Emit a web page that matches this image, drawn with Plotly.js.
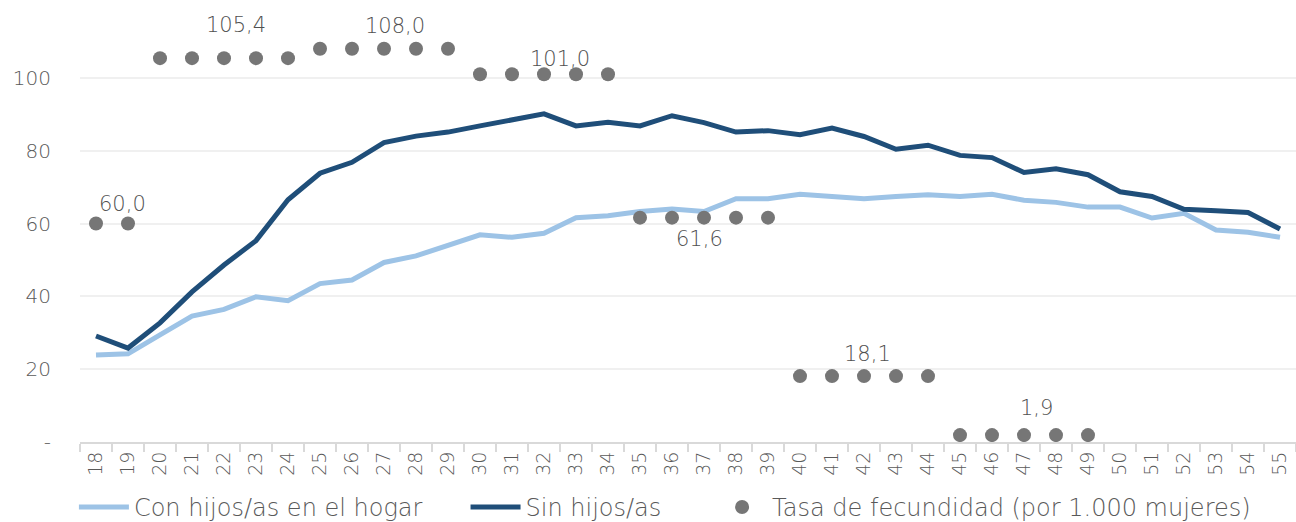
<!DOCTYPE html>
<html>
<head>
<meta charset="utf-8">
<script src="https://cdn.plot.ly/plotly-3.0.1.min.js"></script>
<style>
  html, body { margin: 0; padding: 0; background: #fff; }
  #chart { width: 1296px; height: 522px; }
</style>
</head>
<body>
<div id="chart"></div>
<script>
// Ages (x categories)
const ages = ['18','19','20','21','22','23','24','25','26','27','28','29','30','31','32','33','34','35','36',
              '37','38','39','40','41','42','43','44','45','46','47','48','49','50','51','52','53','54','55'];

// Con hijos/as en el hogar
const con_hijos = [23.9, 24.2, 29.4, 34.6, 36.4, 39.9, 38.8, 43.5, 44.5, 49.3, 51.1, 53.9, 56.9, 56.2, 57.3, 61.6, 62.1, 63.3, 64.0,
                   63.3, 66.8, 66.8, 68.0, 67.4, 66.8, 67.4, 67.9, 67.4, 68.0, 66.4, 65.8, 64.5, 64.5, 61.5, 62.8, 58.2, 57.6, 56.2];

// Sin hijos/as
const sin_hijos = [29.1, 25.8, 32.7, 41.2, 48.6, 55.3, 66.5, 73.8, 76.8, 82.2, 84.0, 85.1, 86.8, 88.6, 90.1, 86.8, 87.8, 86.8, 89.6,
                   87.7, 85.1, 85.5, 84.4, 86.2, 83.9, 80.4, 81.5, 78.7, 78.1, 74.0, 75.0, 73.4, 68.7, 67.4, 63.9, 63.5, 63.0, 58.5];

// Tasa de fecundidad (por 1.000 mujeres), by age group
const tasa = [60.0, 60.0,
              105.4, 105.4, 105.4, 105.4, 105.4,
              108.0, 108.0, 108.0, 108.0, 108.0,
              101.0, 101.0, 101.0, 101.0, 101.0,
              61.6, 61.6, 61.6, 61.6, 61.6,
              18.1, 18.1, 18.1, 18.1, 18.1,
              1.9, 1.9, 1.9, 1.9, 1.9,
              null, null, null, null, null, null];

// Which ages carry a value label
const label_ages = ['19', '22', '27', '32', '37', '42', '47'];

// Y axis ticks
const y_ticks = [0, 20, 40, 60, 80, 100];
const y_tick_text = ['-', '20', '40', '60', '80', '100'];

const FONT = '"DejaVu Sans", sans-serif';
const GREY_TXT = '#595959';
const PAD = '\u00a0';  // spacing between legend entries

// label offsets (px) to sit like the original
const label_shift = [[-6, 20], [12, 33], [11, 23], [16, 15], [-5, -21], [3, 22], [12, 27]];

const annotations = label_ages.map((a, i) => {
    const idx = ages.indexOf(a);
    return {
        x: idx,
        y: tasa[idx],
        xref: 'x', yref: 'y',
        text: tasa[idx].toFixed(1).replace('.', ','),
        showarrow: false,
        xshift: label_shift[i][0],
        yshift: label_shift[i][1],
        font: {family: FONT, size: 21, color: '#505050', weight: 200}
    };
});

const trace_con = {
    type: 'scatter',
    mode: 'lines',
    name: 'Con hijos/as en el hogar' + PAD.repeat(5),
    x: ages,
    y: con_hijos,
    line: {color: '#9dc3e6', width: 5}
};

const trace_sin = {
    type: 'scatter',
    mode: 'lines',
    name: 'Sin hijos/as' + PAD.repeat(6),
    x: ages,
    y: sin_hijos,
    line: {color: '#1f4e79', width: 5}
};

const trace_tasa = {
    type: 'scatter',
    mode: 'markers',
    name: 'Tasa de fecundidad (por 1.000 mujeres)',
    x: ages,
    y: tasa,
    marker: {color: '#767676', size: 14}
};

Plotly.newPlot('chart', [trace_con, trace_sin, trace_tasa], {
    width: 1296,
    height: 522,
    margin: {l: 80, r: 0, t: 5, b: 80, autoexpand: false},
    plot_bgcolor: '#fff',
    paper_bgcolor: '#fff',
    showlegend: true,
    font: {family: FONT, color: GREY_TXT, size: 20, weight: 200},

    xaxis: {
        type: 'category',
        range: [-0.5, 37.5],
        tickangle: -90,
        tickson: 'boundaries',
        ticks: 'outside',
        ticklen: 8,
        tickwidth: 2,
        tickcolor: '#d9d9d9',
        showline: true,
        linecolor: '#d9d9d9',
        linewidth: 2,
        showgrid: false,
        automargin: false,
        tickfont: {family: FONT, size: 19, color: GREY_TXT, weight: 200}
    },

    yaxis: {
        range: [0, 120],
        tickvals: y_ticks,
        ticktext: y_tick_text,
        showgrid: true,
        gridcolor: '#f0f0f0',
        gridwidth: 2,
        zeroline: false,
        automargin: false,
        ticklabelstandoff: 28,
        tickfont: {family: FONT, size: 20, color: GREY_TXT, weight: 200}
    },

    legend: {
        orientation: 'h',
        x: -0.005,
        xanchor: 'left',
        y: -0.098,
        yanchor: 'top',
        itemwidth: 50,
        font: {family: FONT, size: 24, color: GREY_TXT, weight: 200},
        tracegroupgap: 0
    },

    annotations: annotations
}, {displayModeBar: false, staticPlot: true});
</script>
</body>
</html>
